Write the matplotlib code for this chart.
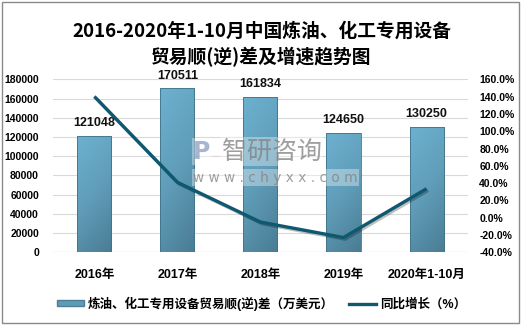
import matplotlib
matplotlib.use("Agg")
import matplotlib.pyplot as plt
import numpy as np
from matplotlib.patches import Rectangle, Patch
from matplotlib.lines import Line2D
from matplotlib.colors import LinearSegmentedColormap
import matplotlib.patheffects as pe

plt.rcParams['font.family'] = ['Liberation Sans', 'Noto Sans CJK SC', 'DejaVu Sans']

categories = ["2016年", "2017年", "2018年", "2019年", "2020年1-10月"]
balance = [121048, 170511, 161834, 124650, 130250]
growth = [140.2, 40.9, -5.1, -23.0, 33.5]
left_ticks = [0, 20000, 40000, 60000, 80000, 100000, 120000, 140000, 160000, 180000]
right_ticks = [-40, -20, 0, 20, 40, 60, 80, 100, 120, 140, 160]

bar_name = "炼油、化工专用设备贸易顺(逆)差（万美元）"
line_name = "同比增长（%）"
title = "2016-2020年1-10月中国炼油、化工专用设备\n贸易顺(逆)差及增速趋势图"

fig = plt.figure(figsize=(5.23, 3.28), dpi=100)
ax = fig.add_axes([0.101, 0.231, 0.794, 0.527])
ax2 = ax.twinx()

x = np.arange(len(categories))
width = 0.41
bars = ax.bar(x, balance, width=width, color="none", edgecolor="#3f7288",
              linewidth=0.6, zorder=3)

# gradient fill for each bar: lighter top-left, darker bottom-right
cmap = LinearSegmentedColormap.from_list("bar", ["#4a7d94", "#609db9", "#6cb1d0"])
gy = np.linspace(0, 1, 64)[:, None]
gx = np.linspace(0, 1, 16)[None, :]
grad = 0.75 * gy + 0.25 * (1 - gx)
for b in bars:
    x0, y0 = b.get_x(), b.get_y()
    w, h = b.get_width(), b.get_height()
    im = ax.imshow(grad, cmap=cmap, extent=(x0, x0 + w, y0, y0 + h),
                   origin="lower", aspect="auto", zorder=2, interpolation="bilinear")
    im.set_clip_path(b)

for xi, v in zip(x, balance):
    ax.annotate(f"{v}", (xi, v), xytext=(0, 5), textcoords="offset points",
                ha="center", va="bottom", fontsize=9, fontweight="bold", color="#111111")

ax.set_xlim(-0.5, len(categories) - 0.5)
ax.set_ylim(0, 180000)
ax.set_yticks(left_ticks)
ax.set_yticklabels([str(t) for t in left_ticks])
ax.grid(axis="y", color="#d9d9d9", linewidth=0.8, zorder=0)
ax.set_axisbelow(True)
for s in ax.spines.values():
    s.set_visible(False)
for s in ax2.spines.values():
    s.set_visible(False)
ax.axhline(0, color="#d0d0d0", linewidth=0.8, zorder=1)
ax.tick_params(axis="both", length=0)
ax.tick_params(axis="y", pad=10, labelsize=7.5)
ax.tick_params(axis="x", pad=12, labelsize=9)
ax.set_xticks(x)
ax.set_xticklabels(categories, fontweight="bold")
for lab in ax.get_yticklabels():
    lab.set_fontweight("bold")

ax2.plot(x, growth, color="#0e5870", linewidth=2.4, solid_capstyle="butt", zorder=4,
         path_effects=[pe.SimpleLineShadow(offset=(1.2, -1.2), alpha=0.25), pe.Normal()])
ax2.set_ylim(-40, 160)
ax2.set_yticks(right_ticks)
ax2.set_yticklabels([f"{t:.1f}%" for t in right_ticks])
ax2.tick_params(axis="y", length=0, pad=8, labelsize=7.5)
for lab in ax2.get_yticklabels():
    lab.set_fontweight("bold")

fig.text(0.5, 0.865, title, ha="center", va="center", fontsize=13.5,
         fontweight="bold", linespacing=1.4, family=['Noto Sans CJK SC'])

# watermark
wm_box = dict(facecolor="white", edgecolor="none", alpha=0.35, pad=1)
fig.text(0.424, 0.537, "智研咨询", ha="left", va="center", fontsize=18,
         color="#7f7f7f", alpha=0.75, family=['Noto Sans CJK SC'], bbox=wm_box)
fig.text(0.369, 0.458, "w w w . c h y x x . c o m", ha="left", va="center", fontsize=9.8,
         color="#7f7f7f", alpha=0.75, family=['DejaVu Sans'], bbox=wm_box)
fig.text(0.369, 0.537, "P", ha="left", va="center", fontsize=17, fontweight="bold",
         color="#6d82b8", alpha=0.6, family=['DejaVu Sans'], bbox=wm_box)

handles = [Patch(facecolor="#5f9bb7", edgecolor="#4b7f96"),
           Line2D([0], [0], color="#0e5870", linewidth=2.4)]
leg = fig.legend(handles, [bar_name, line_name], loc="center", bbox_to_anchor=(0.5, 0.075),
                 ncol=2, frameon=False, fontsize=9, handlelength=2.2, handleheight=0.45,
                 columnspacing=1.2, handletextpad=0.3)
for t in leg.get_texts():
    t.set_fontweight("bold")

fig.add_artist(Rectangle((0.004, 0.015), 0.988, 0.978, transform=fig.transFigure,
                         fill=False, edgecolor="#8a8a8a", linewidth=1.0))

fig.savefig("out.png", dpi=100)
